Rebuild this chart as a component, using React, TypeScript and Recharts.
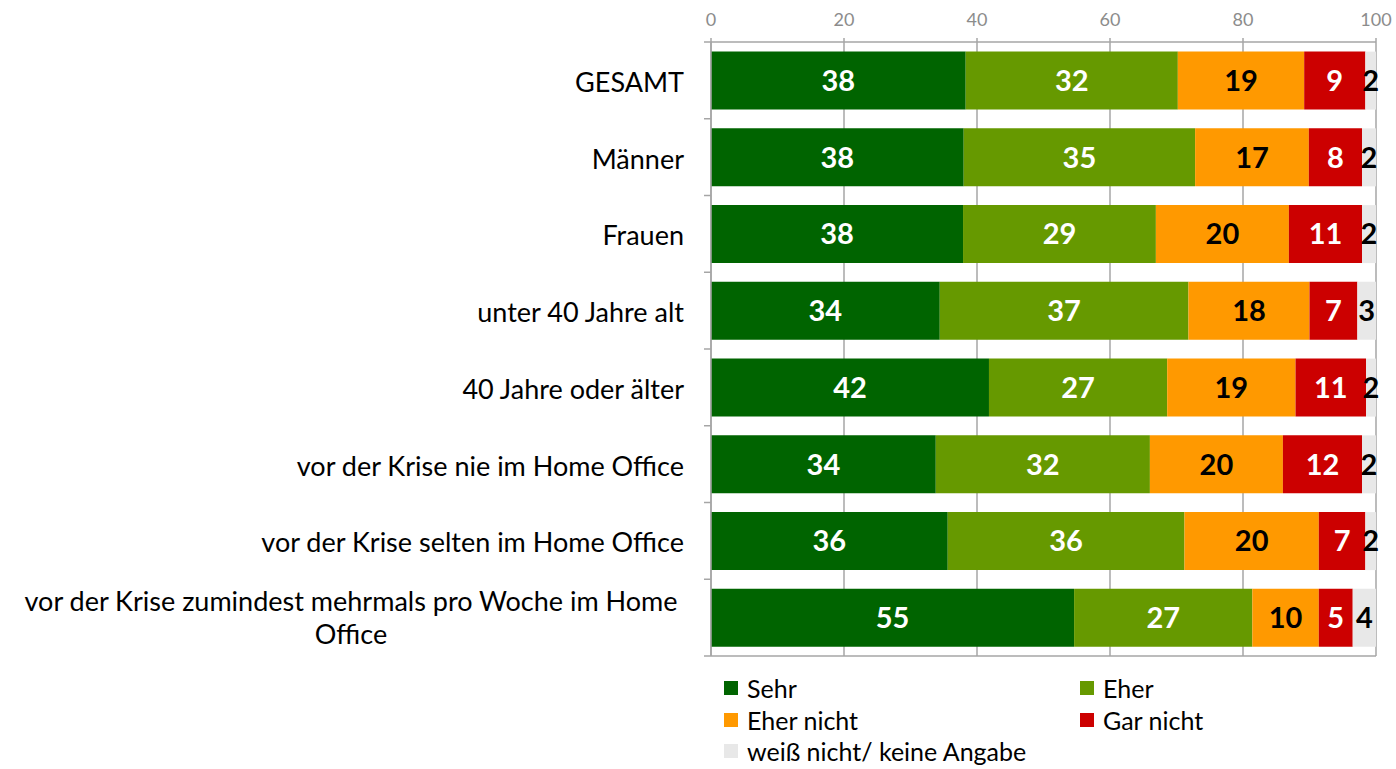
import React from "react"
import { BarChart, Bar, XAxis, YAxis, CartesianGrid, LabelList } from "recharts"

const categories = [
  "GESAMT",
  "Männer",
  "Frauen",
  "unter 40 Jahre alt",
  "40 Jahre oder älter",
  "vor der Krise nie im Home Office",
  "vor der Krise selten im Home Office",
  "vor der Krise zumindest mehrmals pro Woche im Home\nOffice",
]

const sehr = [38.3, 38.0, 37.9, 34.4, 41.8, 33.8, 35.6, 54.6]
const eher = [31.9, 34.8, 29.0, 37.4, 26.8, 32.2, 35.6, 26.8]
const eherNicht = [19.0, 17.1, 20.0, 18.2, 19.3, 20.0, 20.2, 10.0]
const garNicht = [9.2, 8.0, 11.0, 7.2, 10.6, 11.9, 7.0, 5.1]
const weissNicht = [1.6, 2.1, 2.1, 2.8, 1.5, 2.1, 1.6, 3.5]

const xTicks = [0, 20, 40, 60, 80, 100]

const SERIES = [
  { key: "sehr", name: "Sehr", color: "#006400", label: "#ffffff" },
  { key: "eher", name: "Eher", color: "#669900", label: "#ffffff" },
  { key: "eherNicht", name: "Eher nicht", color: "#ff9900", label: "#000000" },
  { key: "garNicht", name: "Gar nicht", color: "#cc0000", label: "#ffffff" },
  { key: "weissNicht", name: "weiß nicht/ keine Angabe", color: "#e8e8e8", label: "#000000" },
]

const data = categories.map((name, i) => ({
  name,
  sehr: sehr[i],
  eher: eher[i],
  eherNicht: eherNicht[i],
  garNicht: garNicht[i],
  weissNicht: weissNicht[i],
}))

const FONT = "Lato, 'Open Sans', sans-serif"
const GRID = "#a6a6a6"

const CategoryTick = (props: any) => {
  const { x, y, payload, index } = props
  const lines: string[] = String(payload.value).split("\n")
  const half = payload.offset || 0
  const lineH = 33
  const startY = y - ((lines.length - 1) * lineH) / 2
  return (
    <g>
      <line x1={x + 20} x2={x + 27} y1={y - half} y2={y - half} stroke={GRID} strokeWidth={1.5} />
      {index === categories.length - 1 && (
        <line x1={x + 20} x2={x + 27} y1={y + half} y2={y + half} stroke={GRID} strokeWidth={1.5} />
      )}
      {lines.length === 1 ? (
        <text x={x} y={y + 2} dy="0.35em" textAnchor="end" fontSize={27} fontFamily={FONT} fill="#000">
          {lines[0]}
        </text>
      ) : (
        lines.map((l, i) => (
          <text key={i} x={x - 333} y={startY + i * lineH} dy="0.35em" textAnchor="middle" fontSize={27} fontFamily={FONT} fill="#000">
            {l}
          </text>
        ))
      )}
    </g>
  )
}

export default function App() {
  return (
    <div style={{ position: "absolute", left: 0, top: 0, width: 1396, height: 769, background: "#fff" }}>
      <BarChart
        width={1396}
        height={769}
        data={data}
        layout="vertical"
        margin={{ top: 0, right: 20, bottom: 113, left: 0 }}
        barCategoryGap="12.5%"
      >
        <CartesianGrid
          horizontal={true}
          vertical={true}
          stroke={GRID}
          strokeWidth={1.5}
          horizontalCoordinatesGenerator={({ offset }: any) => [offset.top + offset.height]}
        />
        <XAxis
          type="number"
          orientation="top"
          domain={[0, 100]}
          ticks={xTicks}
          height={42}
          tickLine={{ stroke: GRID, strokeWidth: 1.5 }}
          tickSize={4}
          tickMargin={12}
          axisLine={{ stroke: GRID, strokeWidth: 1.5 }}
          tick={{ fill: "#8c8c8c", fontSize: 18, fontFamily: FONT }}
        />
        <YAxis
          type="category"
          dataKey="name"
          width={711}
          tickLine={false}
          tickSize={0}
          tickMargin={27}
          axisLine={{ stroke: GRID, strokeWidth: 1.5 }}
          tick={<CategoryTick />}
          interval={0}
        />
        {SERIES.map((s) => (
          <Bar key={s.key} dataKey={s.key} name={s.name} stackId="a" fill={s.color} isAnimationActive={false}>
            <LabelList
              dataKey={s.key}
              position="center"
              fill={s.label}
              fontSize={29}
              fontWeight="bold"
              fontFamily={FONT}
              formatter={(v: any) => Math.round(Number(v))}
            />
          </Bar>
        ))}
      </BarChart>
      <div
        style={{
          position: "absolute",
          left: 724,
          top: 674,
          width: 600,
          display: "grid",
          gridTemplateColumns: "356px 220px",
          rowGap: 3.5,
          fontFamily: FONT,
          fontSize: 25,
          color: "#000",
        }}
      >
        {SERIES.map((s) => (
          <div key={s.key} style={{ display: "flex", alignItems: "center", height: 28, whiteSpace: "nowrap" }}>
            <span style={{ display: "inline-block", width: 14, height: 14, background: s.color, marginRight: 9 }} />
            <span>{s.name}</span>
          </div>
        ))}
      </div>
    </div>
  )
}
